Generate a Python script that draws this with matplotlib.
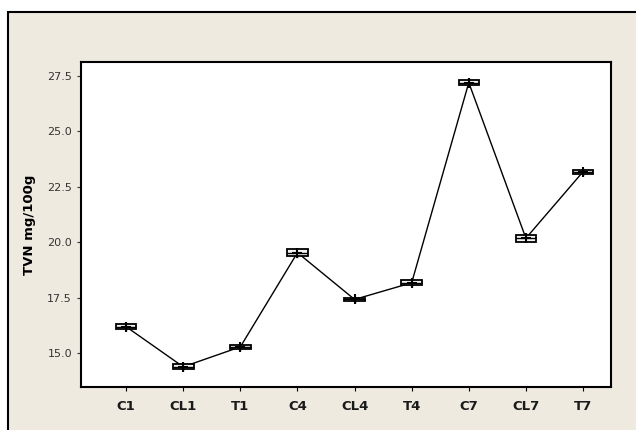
import matplotlib
matplotlib.use("Agg")
import matplotlib.pyplot as plt
from matplotlib.patches import Rectangle

# groups and TVN values
groups = ["C1", "CL1", "T1", "C4", "CL4", "T4", "C7", "CL7", "T7"]
means = [16.19, 14.38, 15.28, 19.53, 17.42, 18.17, 27.20, 20.18, 23.18]
q1 = [16.10, 14.28, 15.20, 19.38, 17.35, 18.05, 27.08, 20.03, 23.08]
q3 = [16.30, 14.50, 15.36, 19.68, 17.50, 18.30, 27.32, 20.33, 23.28]
lo = [16.05, 14.25, 15.15, 19.35, 17.30, 18.02, 27.05, 20.00, 23.05]
hi = [16.35, 14.55, 15.42, 19.70, 17.55, 18.33, 27.35, 20.36, 23.32]

beige = "#EEEAE0"

fig = plt.figure(figsize=(6.36, 4.30), dpi=100)
fig.patch.set_facecolor("white")
# outer graph frame
fig.patches.append(Rectangle((8 / 636, -0.1), 1.2, 1.1 - 12 / 430,
                             transform=fig.transFigure, facecolor=beige,
                             edgecolor="black", linewidth=1.5, zorder=-10))

ax = fig.add_axes([81 / 636, 1 - 387 / 430, 530 / 636, 325 / 430])
ax.set_facecolor("white")

x = list(range(1, len(groups) + 1))
stats = []
for i, g in enumerate(groups):
    stats.append({"label": g, "med": means[i], "q1": q1[i], "q3": q3[i],
                  "whislo": lo[i], "whishi": hi[i], "mean": means[i],
                  "fliers": []})

ax.bxp(stats, positions=x, widths=0.36, patch_artist=True, showmeans=True,
       boxprops=dict(facecolor="#f4f4f4", edgecolor="black", linewidth=1.3),
       medianprops=dict(color="black", linewidth=1),
       whiskerprops=dict(color="black", linewidth=1),
       capprops=dict(linewidth=0),
       meanprops=dict(marker="+", markeredgecolor="black",
                      markersize=7, markeredgewidth=1.5))

# connect the means
ax.plot(x, means, color="black", linewidth=1, zorder=1)

ax.set_xlim(0.21, 9.49)
ax.set_ylim(13.47, 28.13)
ax.set_yticks([15.0, 17.5, 20.0, 22.5, 25.0, 27.5])
ax.set_yticklabels(["15.0", "17.5", "20.0", "22.5", "25.0", "27.5"])
ax.set_xticks(x)
ax.set_xticklabels(groups, fontweight="bold", fontsize=9.5, color="#1a1a1a")
ax.tick_params(axis="y", labelsize=8, colors="#333333", length=3)
ax.tick_params(axis="x", length=3, pad=6)
ax.set_ylabel("TVN mg/100g", fontweight="bold", fontsize=9.5, labelpad=12)
ax.yaxis.set_label_coords(-0.085, 0.5)

for s in ax.spines.values():
    s.set_linewidth(1.5)

plt.savefig("out.png", dpi=100, facecolor=fig.get_facecolor())
